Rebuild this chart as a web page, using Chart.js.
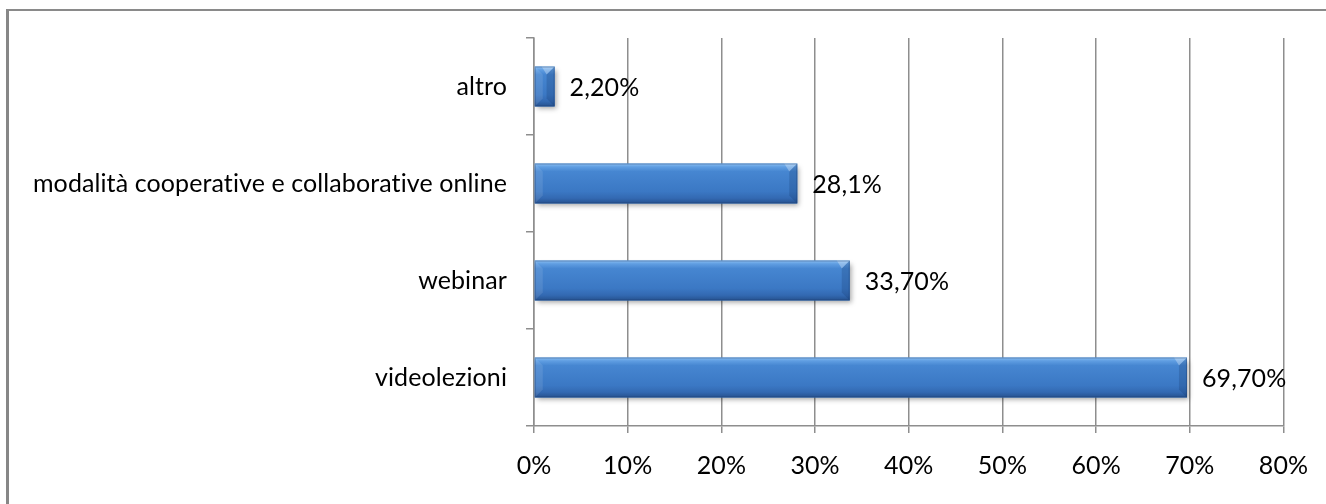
<!DOCTYPE html>
<html>
<head>
<meta charset="utf-8">
<script src="https://cdn.jsdelivr.net/npm/chart.js@4.4.1/dist/chart.umd.min.js"></script>
<style>
	html, body { margin: 0; padding: 0; background: #fff; overflow: hidden; }
	#wrap { position: relative; width: 1326px; height: 504px; }
	#frame {
		position: absolute; left: 6px; top: 9px; width: 1400px; height: 600px;
		border-left: 3px solid #878787; border-top: 2px solid #8a8a8a;
	}
	#chart { position: absolute; left: 0; top: 0; }
</style>
</head>
<body>
<div id="wrap">
	<div id="frame"></div>
	<canvas id="chart" width="1326" height="504"></canvas>
</div>
<script>
// data
const categories = [
	'altro',
	'modalità cooperative e collaborative online',
	'webinar',
	'videolezioni',
]
const values = [2.2, 28.1, 33.7, 69.7]
const valueLabels = ['2,20%', '28,1%', '33,70%', '69,70%']
const xTicks = [0, 10, 20, 30, 40, 50, 60, 70, 80]

const FONT = { family: 'Lato', size: 25 }
const GRID = '#8e8e8e'

// tiny letter spacing keeps Lato from using its "ti" ligature
const noLigatures = {
	id: 'noLigatures',
	beforeDraw(chart) {
		chart.ctx.letterSpacing = '0.1px'
	},
}

// shadow under bars, then gradient + bevel on top
const barLook = {
	id: 'barLook',
	beforeDatasetDraw(chart) {
		const ctx = chart.ctx
		ctx.save()
		ctx.shadowColor = 'rgba(0,0,0,0.35)'
		ctx.shadowBlur = 5
		ctx.shadowOffsetX = 2
		ctx.shadowOffsetY = 3
	},
	afterDatasetDraw(chart) {
		const ctx = chart.ctx
		ctx.restore()
		const meta = chart.getDatasetMeta(0)
		meta.data.forEach(bar => {
			const left = bar.base
			const right = bar.x
			const top = bar.y - bar.height / 2
			const bottom = bar.y + bar.height / 2
			const h = bottom - top
			const w = right - left
			const b = Math.min(8, w / 2)

			const g = ctx.createLinearGradient(0, top, 0, bottom)
			g.addColorStop(0, '#8cc0f2')
			g.addColorStop(0.08, '#609ee2')
			g.addColorStop(0.2, '#4686d1')
			g.addColorStop(0.7, '#3b78c4')
			g.addColorStop(0.87, '#3369b2')
			g.addColorStop(1, '#26528f')
			ctx.fillStyle = g
			ctx.fillRect(left, top, w, h)

			// right end facet
			ctx.beginPath()
			ctx.moveTo(right, top)
			ctx.lineTo(right, bottom)
			ctx.lineTo(right - b, bottom - b)
			ctx.lineTo(right - b, top + b)
			ctx.closePath()
			ctx.fillStyle = 'rgba(20,50,100,0.22)'
			ctx.fill()
			ctx.beginPath()
			ctx.moveTo(right, top)
			ctx.lineTo(right - b, top + b)
			ctx.lineTo(right - b - 5, top)
			ctx.closePath()
			ctx.fillStyle = 'rgba(255,255,255,0.3)'
			ctx.fill()

			// left end facet
			ctx.beginPath()
			ctx.moveTo(left, top)
			ctx.lineTo(left + b, top + b)
			ctx.lineTo(left + b, bottom - b)
			ctx.lineTo(left, bottom)
			ctx.closePath()
			ctx.fillStyle = 'rgba(255,255,255,0.1)'
			ctx.fill()

			ctx.strokeStyle = 'rgba(30,60,110,0.35)'
			ctx.lineWidth = 1
			ctx.strokeRect(left + 0.5, top + 0.5, w - 1, h - 1)
		})
	},
}

const valueText = {
	id: 'valueText',
	afterDatasetsDraw(chart) {
		const ctx = chart.ctx
		const meta = chart.getDatasetMeta(0)
		ctx.save()
		ctx.font = FONT.size + 'px ' + FONT.family
		ctx.fillStyle = '#000'
		ctx.textAlign = 'left'
		ctx.textBaseline = 'middle'
		meta.data.forEach((bar, i) => {
			ctx.fillText(valueLabels[i], bar.x + 15, bar.y + 1)
		})
		ctx.restore()
	},
}

new Chart(document.getElementById('chart'), {
	type: 'bar',
	data: {
		labels: categories,
		datasets: [
			{
				data: values,
				backgroundColor: '#3e7cc7',
				borderWidth: 0,
				categoryPercentage: 1,
				barPercentage: 0.41,
			},
		],
	},
	options: {
		indexAxis: 'y',
		responsive: false,
		animation: false,
		layout: { padding: { left: 0, right: 41, top: 38, bottom: 0 } },
		plugins: { legend: { display: false }, tooltip: { enabled: false } },
		scales: {
			x: {
				min: 0,
				max: 80,
				afterBuildTicks(scale) {
					scale.ticks = xTicks.map(v => ({ value: v }))
				},
				afterFit(scale) {
					scale.height = 78
				},
				ticks: {
					callback: v => v + '%',
					color: '#000',
					font: FONT,
					padding: 18,
					maxRotation: 0,
				},
				grid: { color: GRID, lineWidth: 1.5, tickLength: 7 },
				border: { color: GRID, width: 1.5 },
			},
			y: {
				afterFit(scale) {
					scale.width = 534
				},
				ticks: { color: '#000', font: FONT, padding: 19 },
				grid: { drawOnChartArea: false, color: GRID, lineWidth: 1.5, tickLength: 8, offset: true },
				border: { color: GRID, width: 1.5 },
			},
		},
	},
	plugins: [noLigatures, barLook, valueText],
})
</script>
</body>
</html>
